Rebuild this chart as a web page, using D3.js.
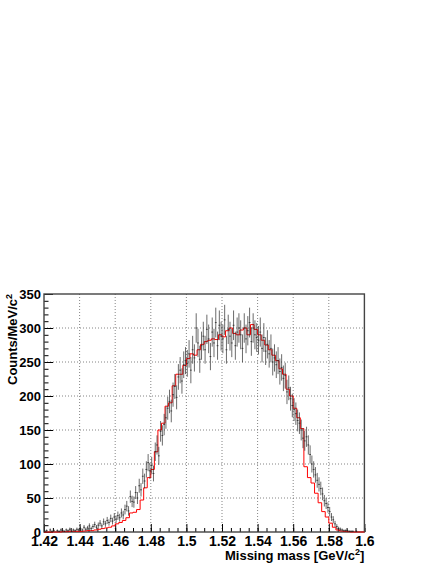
<!DOCTYPE html>
<html>
<head>
<meta charset="utf-8">
<script src="https://cdn.jsdelivr.net/npm/d3@7"></script>
<style>
body { margin: 0; background: #fff; }
text { font-family: "Liberation Sans", Arial, sans-serif; font-weight: bold; fill: #000; }
</style>
</head>
<body>
<svg width="441" height="570"></svg>
<script>
// histogram binning (GeV/c^2)
var massMin = 1.42, massMax = 1.6;
var dataBinWidth = 0.001;
var mcBinWidth = 0.002;

// measured counts per 1 MeV bin, 1.420 .. 1.600
var dataCounts = [
  1, 2, 0, 3, 1, 2, 0, 2, 1, 3,
  2, 1, 3, 2, 4, 1, 3, 2, 4, 3,
  5, 3, 7, 4, 6, 9, 5, 8, 11, 7,
  10, 13, 9, 15, 12, 17, 14, 20, 16, 22,
  19, 24, 21, 28, 25, 33, 38, 31, 52, 45,
  44, 58, 50, 68, 62, 82, 75, 92, 102, 90,
  98, 86, 118, 128, 112, 148, 142, 158, 168, 182,
  192, 178, 202, 214, 198, 228, 238, 222, 246, 252,
  248, 262, 238, 268, 256, 300, 278, 254, 274, 288,
  268, 298, 284, 258, 294, 278, 308, 274, 304, 288,
  284, 312, 268, 298, 288, 278, 304, 274, 294, 300,
  290, 270, 300, 284, 296, 308, 280, 300, 290, 286,
  282, 294, 270, 286, 266, 276, 262, 270, 250, 256,
  246, 252, 236, 242, 226, 230, 206, 212, 196, 186,
  180, 174, 164, 160, 150, 138, 134, 140, 128, 114,
  100, 92, 84, 76, 70, 64, 56, 46, 42, 36,
  30, 22, 18, 12, 8, 5, 4, 3, 2, 2,
  2, 1, 1, 1, 0, 1, 0, 0, 0, 0
];

// simulation per 2 MeV bin, 1.420 .. 1.600
var mcCounts = [
  0, 0, 0, 0, 0, 0.5, 0.5, 1, 1, 1,
  1, 1.5, 2, 2, 3, 4, 5, 6, 7, 9,
  12, 14, 17, 21, 28, 29, 33, 47, 65, 80,
  92, 118, 150, 160, 185, 190, 215, 232, 232, 245,
  255, 262, 260, 268, 276, 280, 282, 284, 283, 290,
  287, 296, 300, 292, 290, 297, 300, 290, 305, 298,
  290, 282, 275, 268, 260, 252, 240, 232, 210, 200,
  182, 168, 152, 96, 80, 72, 57, 43, 30, 22,
  13, 7, 3, 1.5, 1, 0.5, 0, 0, 0, 0
];

var xTicks = [1.42, 1.44, 1.46, 1.48, 1.5, 1.52, 1.54, 1.56, 1.58, 1.6];
var xTickLabels = ["1.42", "1.44", "1.46", "1.48", "1.5", "1.52", "1.54", "1.56", "1.58", "1.6"];
var yTicks = [0, 50, 100, 150, 200, 250, 300, 350];
var yTickLabels = ["0", "50", "100", "150", "200", "250", "300", "350"];

var padL = 44, padR = 364.4, padT = 294, padB = 532;

var svg = d3.select("svg");
var x = d3.scaleLinear().domain([massMin, massMax]).range([padL, padR]);
var y = d3.scaleLinear().domain([0, 350]).range([padB, padT]);

// grid
var grid = svg.append("g")
  .attr("stroke", "#666")
  .attr("stroke-width", 0.8)
  .attr("stroke-dasharray", "1,2");
grid.selectAll(".gx")
  .data(xTicks.slice(1, -1))
  .enter().append("line")
  .attr("x1", d => x(d)).attr("x2", d => x(d))
  .attr("y1", padT).attr("y2", padB);
grid.selectAll(".gy")
  .data(yTicks.slice(1, -1))
  .enter().append("line")
  .attr("x1", padL).attr("x2", padR)
  .attr("y1", d => y(d)).attr("y2", d => y(d));

// minor ticks
var xMinor = d3.range(0, 37).map(i => massMin + i * 0.005);
var yMinor = d3.range(0, 36).map(i => i * 10);

svg.append("g")
  .attr("transform", "translate(0," + padB + ")")
  .call(d3.axisBottom(x).tickValues(xMinor).tickSize(-4).tickFormat(""))
  .call(g => g.select(".domain").remove());
svg.append("g")
  .attr("transform", "translate(" + padL + ",0)")
  .call(d3.axisLeft(y).tickValues(yMinor).tickSize(-4.5).tickFormat(""))
  .call(g => g.select(".domain").remove());

// major ticks and labels
var xAxis = svg.append("g")
  .attr("transform", "translate(0," + padB + ")")
  .call(d3.axisBottom(x).tickValues(xTicks).tickSize(-8).tickPadding(4)
    .tickFormat((d, i) => xTickLabels[i]));
xAxis.select(".domain").remove();
xAxis.selectAll("text").attr("font-size", 14).attr("font-family", null);

var yAxis = svg.append("g")
  .attr("transform", "translate(" + padL + ",0)")
  .call(d3.axisLeft(y).tickValues(yTicks).tickSize(-9).tickPadding(3)
    .tickFormat((d, i) => yTickLabels[i]));
yAxis.select(".domain").remove();
yAxis.selectAll("text").attr("font-size", 13).attr("font-family", null);

// frame
svg.append("rect")
  .attr("x", padL).attr("y", padT)
  .attr("width", padR - padL).attr("height", padB - padT)
  .attr("fill", "none")
  .attr("stroke", "#444")
  .attr("stroke-width", 1.4);

// simulation histogram
var mcPts = mcCounts.map((v, i) => [massMin + i * mcBinWidth, v]);
mcPts.push([massMax, mcCounts[mcCounts.length - 1]]);
svg.append("path")
  .datum(mcPts)
  .attr("fill", "none")
  .attr("stroke", "#f00")
  .attr("stroke-width", 1)
  .attr("d", d3.line().x(d => x(d[0])).y(d => y(d[1])).curve(d3.curveStepAfter));

// data with Poisson-like error bars
var pts = dataCounts.map((v, i) => ({
  lo: massMin + i * dataBinWidth,
  hi: massMin + (i + 1) * dataBinWidth,
  c: massMin + (i + 0.5) * dataBinWidth,
  v: v,
  e: Math.sqrt(v) * 1.25
})).filter(d => d.v > 0);

var dg = svg.append("g").attr("stroke", "#222").attr("stroke-opacity", 0.75);
dg.selectAll(".ev")
  .data(pts)
  .enter().append("line")
  .attr("x1", d => x(d.c)).attr("x2", d => x(d.c))
  .attr("y1", d => y(Math.max(0, d.v - d.e)))
  .attr("y2", d => y(d.v + d.e))
  .attr("stroke-width", 0.9);
dg.selectAll(".eh")
  .data(pts)
  .enter().append("line")
  .attr("x1", d => x(d.lo)).attr("x2", d => x(d.hi))
  .attr("y1", d => y(d.v)).attr("y2", d => y(d.v))
  .attr("stroke-width", 1);

// axis titles
var xTitle = svg.append("text")
  .attr("x", padR).attr("y", 560)
  .attr("text-anchor", "end")
  .attr("font-size", 13)
  .text("Missing mass [GeV/c");
xTitle.append("tspan").attr("dy", -5).attr("font-size", 9).text("2");
xTitle.append("tspan").attr("dy", 5).text("]");

var yTitle = svg.append("text")
  .attr("transform", "translate(17," + padT + ") rotate(-90)")
  .attr("text-anchor", "end")
  .attr("font-size", 13)
  .text("Counts/MeV/c");
yTitle.append("tspan").attr("dy", -5).attr("font-size", 9).text("2");
</script>
</body>
</html>
